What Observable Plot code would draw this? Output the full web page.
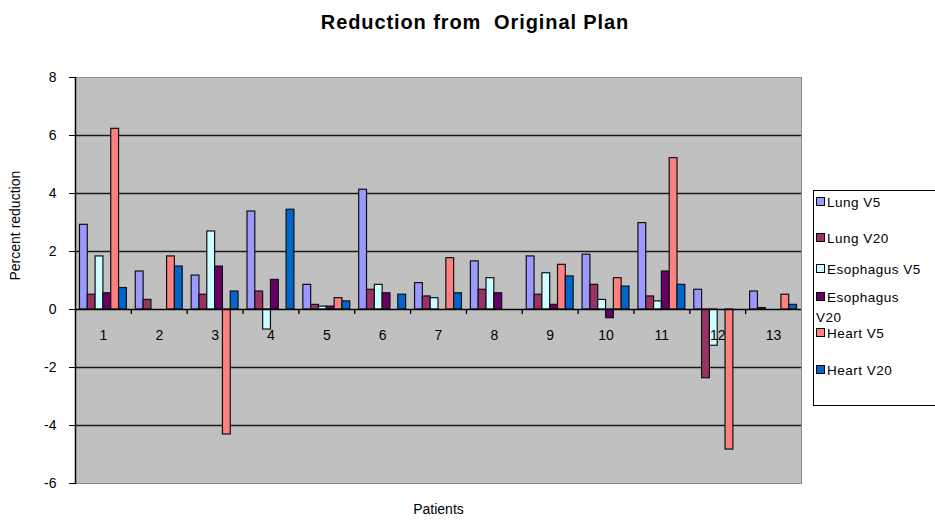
<!DOCTYPE html>
<html>
<head>
<meta charset="utf-8">
<script src="https://cdn.jsdelivr.net/npm/d3@7"></script>
<script src="https://cdn.jsdelivr.net/npm/@observablehq/plot@0.6"></script>
<style>
  html, body { margin: 0; padding: 0; background: #fff; }
  body { width: 935px; height: 522px; overflow: hidden; position: relative;
         font-family: "Liberation Sans", Arial, sans-serif; color: #000; }
  #title { height: 40px; width: 950px; text-align: center; font-weight: bold;
           font-size: 20px; letter-spacing: 0.9px; line-height: 44px; }
  #chart svg { display: block; }
  #legend { position: absolute; left: 813px; top: 190px; width: 140px; height: 216px;
            border: 1px solid #000; background: #fff; box-sizing: border-box; }
  .item { position: absolute; left: 2px; font-size: 13.5px; letter-spacing: 0.5px;
          line-height: 20px; white-space: nowrap; }
  .sw { display: inline-block; width: 7px; height: 7px; border: 1px solid #000;
        margin-right: 2px; vertical-align: 1px; }
</style>
</head>
<body>
<div id="title">Reduction from&nbsp; Original Plan</div>
<div id="chart"></div>
<div id="legend"></div>
<script>
// Patients on the category axis
const patients = [1, 2, 3, 4, 5, 6, 7, 8, 9, 10, 11, 12, 13];

// Series shown in each patient group (left to right)
const seriesNames = ["Lung V5", "Lung V20", "Esophagus V5", "Esophagus V20", "Heart V5", "Heart V20"];
const seriesColors = ["#9999ff", "#993366", "#ccffff", "#660066", "#ff8080", "#0066cc"];

// Percent reduction per patient
const lungV5       = [2.92, 1.31, 1.17, 3.38, 0.85, 4.13, 0.91, 1.66, 1.83, 1.89, 2.98, 0.68, 0.62];
const lungV20      = [0.51, 0.33, 0.51, 0.62, 0.16, 0.68, 0.45, 0.68, 0.51, 0.85, 0.45, -2.37, 0.05];
const esophagusV5  = [1.83, 0, 2.69, -0.69, 0.10, 0.85, 0.39, 1.08, 1.25, 0.33, 0.28, -1.25, 0];
const esophagusV20 = [0.56, 0, 1.48, 1.02, 0.10, 0.56, 0, 0.56, 0.16, -0.30, 1.31, 0, 0];
const heartV5      = [6.23, 1.83, -4.31, 0, 0.39, 0, 1.77, 0, 1.54, 1.08, 5.22, -4.83, 0.51];
const heartV20     = [0.74, 1.48, 0.62, 3.44, 0.28, 0.51, 0.56, 0, 1.14, 0.79, 0.85, 0, 0.16];

// Value axis ticks
const yTicks = [-6, -4, -2, 0, 2, 4, 6, 8];

const seriesValues = [lungV5, lungV20, esophagusV5, esophagusV20, heartV5, heartV20];

// Long table: one row per bar
const rows = [];
seriesValues.forEach((vals, s) => {
  vals.forEach((v, i) => rows.push({patient: patients[i], series: seriesNames[s], slot: s, value: v}));
});

// Clustered layout inside each unit-wide patient slot
const barW = 0.14;
const groupPad = (1 - barW * seriesNames.length) / 2;
const left = d => d.patient - 0.5 + groupPad + d.slot * barW;

// Category boundaries carry the small tick marks
const bounds = patients.slice(1).map(p => p - 0.5);

const chart = Plot.plot({
  width: 935,
  height: 482,
  marginTop: 37,
  marginBottom: 39,
  marginLeft: 75,
  marginRight: 134,
  x: {domain: [0.5, 13.5], axis: null},
  y: {domain: [-6, 8], axis: null},
  color: {domain: seriesNames, range: seriesColors},
  style: {fontFamily: "'Liberation Sans', Arial, sans-serif", fontSize: "14px", color: "#000", background: "transparent"},
  marks: [
    Plot.frame({fill: "#c0c0c0", stroke: "#8c8c8c"}),
    Plot.ruleY(yTicks.filter(t => t !== 0 && t !== -6 && t !== 8), {stroke: "#1a1a1a", strokeWidth: 1.5}),
    Plot.rectY(rows.filter(d => d.value !== 0), {
      x1: left,
      x2: d => left(d) + barW,
      y1: 0,
      y2: "value",
      fill: "series",
      stroke: "#111",
      strokeWidth: 1.2
    }),
    Plot.ruleY([0], {stroke: "#000", strokeWidth: 1.5}),
    Plot.ruleX(bounds, {y1: 0, y2: 0, insetBottom: -5, stroke: "#000", strokeWidth: 1.3}),
    Plot.text(patients, {x: d => d, y: 0, dy: 26, text: d => String(d), fontSize: 14, letterSpacing: 0.5}),
    Plot.axisY({ticks: yTicks, tickFormat: d => String(d), tickSize: 6, tickPadding: 13, label: null, fontSize: 14}),
    Plot.frame({anchor: "left", stroke: "#000", strokeWidth: 1.5}),
    Plot.text(["Percent reduction"], {frameAnchor: "left", rotate: -90, dx: -60, fontSize: 14, letterSpacing: 0.6}),
    Plot.text(["Patients"], {frameAnchor: "bottom", dy: 30, fontSize: 14, letterSpacing: 1})
  ]
});
document.getElementById("chart").appendChild(chart);

// Legend entries, one per series
const legendTops = [2, 38, 69, 97, 133, 170];
const legend = d3.select("#legend");
seriesNames.forEach((name, i) => {
  const item = legend.append("div").attr("class", "item").style("top", legendTops[i] + "px");
  item.append("span").attr("class", "sw").style("background", seriesColors[i]);
  if (name === "Esophagus V20") {
    item.append("span").html("Esophagus<br>V20");
  } else {
    item.append("span").text(name);
  }
});
</script>
</body>
</html>
